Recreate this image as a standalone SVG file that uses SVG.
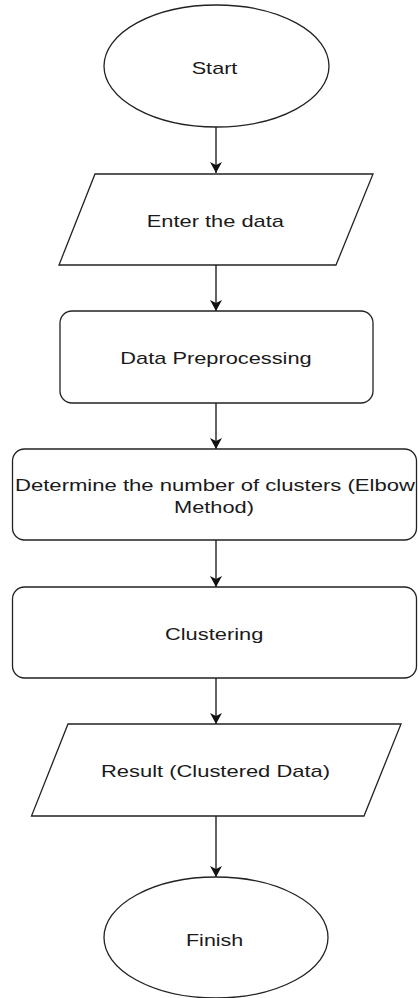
<svg xmlns="http://www.w3.org/2000/svg" width="418" height="998" viewBox="0 0 418 998">
<defs>
<style>
.shape{fill:#ffffff;stroke:#222222;stroke-width:1.3}
.conn{stroke:#222222;stroke-width:1.4;fill:none}
.lbl{font-family:"Liberation Sans",Arial,Helvetica,sans-serif;font-size:17px;fill:#1a1a1a}
</style>
<marker id="arr" markerUnits="userSpaceOnUse" markerWidth="14" markerHeight="14" viewBox="-12 -7 14 14" refX="0" refY="0" orient="auto">
<path d="M0 0 L-11 -6 L-8 0 L-11 6 Z" fill="#111111"/>
</marker>
</defs>
<rect width="418" height="998" fill="#ffffff"/>
<g id="connectors">
<line class="conn" x1="216" y1="127" x2="216" y2="173" marker-end="url(#arr)"/>
<line class="conn" x1="216" y1="265" x2="216" y2="311" marker-end="url(#arr)"/>
<line class="conn" x1="216" y1="403" x2="216" y2="449" marker-end="url(#arr)"/>
<line class="conn" x1="216" y1="540" x2="216" y2="587" marker-end="url(#arr)"/>
<line class="conn" x1="216" y1="678" x2="216" y2="724" marker-end="url(#arr)"/>
<line class="conn" x1="216" y1="816" x2="216" y2="877" marker-end="url(#arr)"/>
</g>
<g id="start">
<ellipse class="shape" cx="216.5" cy="66" rx="112.5" ry="61"/>
<text class="lbl" x="191.7" y="74" textLength="45.7" lengthAdjust="spacingAndGlyphs">Start</text>
</g>
<g id="enter-data">
<polygon class="shape" points="95,174 373,174 336,265 59,265"/>
<text class="lbl" x="146.7" y="226.7" textLength="137.3" lengthAdjust="spacingAndGlyphs">Enter the data</text>
</g>
<g id="preprocessing">
<rect class="shape" x="60" y="311" width="313" height="92" rx="12" ry="12"/>
<text class="lbl" x="120.3" y="364" textLength="191.4" lengthAdjust="spacingAndGlyphs">Data Preprocessing</text>
</g>
<g id="elbow">
<rect class="shape" x="12.5" y="449" width="404" height="91" rx="12" ry="12"/>
<text class="lbl" x="15" y="490.7" textLength="400" lengthAdjust="spacingAndGlyphs">Determine the number of clusters (Elbow</text>
<text class="lbl" x="174" y="513" textLength="80" lengthAdjust="spacingAndGlyphs">Method)</text>
</g>
<g id="clustering">
<rect class="shape" x="12.5" y="587" width="404" height="91" rx="12" ry="12"/>
<text class="lbl" x="165" y="640" textLength="98.3" lengthAdjust="spacingAndGlyphs">Clustering</text>
</g>
<g id="result">
<polygon class="shape" points="68,724 401,724 364,816 31.5,816"/>
<text class="lbl" x="101" y="777" textLength="229" lengthAdjust="spacingAndGlyphs">Result (Clustered Data)</text>
</g>
<g id="finish">
<ellipse class="shape" cx="216" cy="937.5" rx="112" ry="60.5"/>
<text class="lbl" x="186" y="946" textLength="57.3" lengthAdjust="spacingAndGlyphs">Finish</text>
</g>
</svg>
